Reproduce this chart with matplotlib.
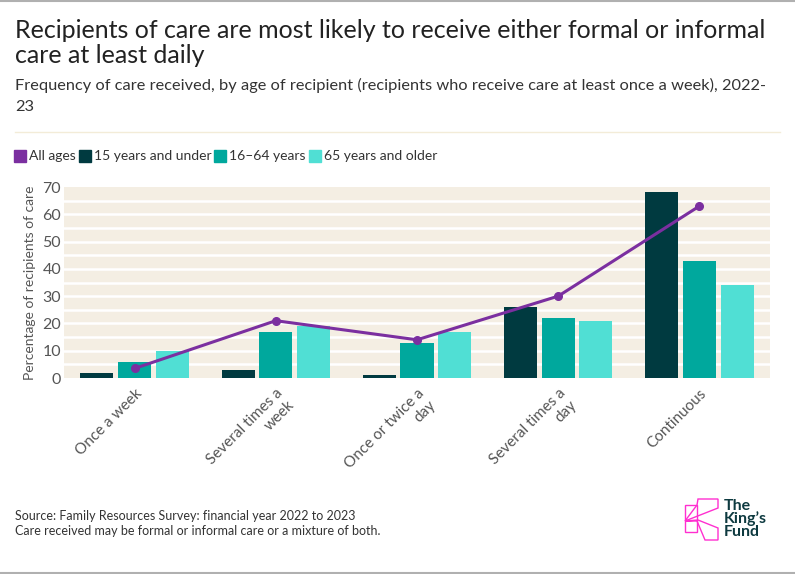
import numpy as np
import matplotlib.pyplot as plt
from matplotlib.patches import Rectangle, Polygon
from matplotlib.lines import Line2D

plt.rcParams['font.family'] = ['Lato', 'DejaVu Sans']

# data
categories = ['Once a week', 'Several times a\nweek', 'Once or twice a\nday',
              'Several times a\nday', 'Continuous']
all_ages = [3.5, 21, 14, 30, 63]
under_15 = [2, 3, 1, 26, 68]
age_16_64 = [6, 17, 13, 22, 43]
over_65 = [10, 19, 17, 21, 34]
series_names = ['All ages', '15 years and under', '16\u201364 years', '65 years and older']

c_purple = '#7b2fa0'
c_dark = '#003a40'
c_mid = '#00a89d'
c_light = '#50dfd4'
grey = '#555555'

fig = plt.figure(figsize=(7.95, 5.74), dpi=100)
W, H = 795, 574

def fx(px):
    return px / W

def fy(py):
    return 1 - py / H

# plot area (pixels: left 64, right 770, top 187, bottom 378)
ax = fig.add_axes([fx(64), fy(378), fx(770 - 64), (378 - 187) / H])
ax.set_facecolor('#f4eee3')
for s in ax.spines.values():
    s.set_visible(False)

x = np.arange(len(categories))
bw = 0.234
step = 0.267
ax.bar(x - step, under_15, bw, color=c_dark, zorder=3)
ax.bar(x, age_16_64, bw, color=c_mid, zorder=3)
ax.bar(x + step, over_65, bw, color=c_light, zorder=3)
ax.plot(x, all_ages, color=c_purple, lw=2.2, marker='o', ms=5.5, zorder=4)

ax.set_xlim(-0.5, len(categories) - 0.5)
ax.set_ylim(0, 70)
ax.set_yticks(np.arange(0, 71, 10))
for yv in np.arange(5, 70, 5):
    ax.axhline(yv, color='white', lw=1.8, zorder=1)
ax.tick_params(axis='y', length=0, labelsize=11.5, labelcolor=grey, pad=2)
ax.tick_params(axis='x', length=0, labelsize=11, labelcolor=grey, pad=6)
ax.set_xticks(x)
ax.set_xticklabels(categories, rotation=45, ha='right', rotation_mode='anchor',
                   multialignment='right')
ax.set_ylabel('Percentage of recipients of care', fontsize=10, color=grey, labelpad=5)

# title and subtitle
fig.text(fx(15), fy(19), 'Recipients of care are most likely to receive either formal or informal\ncare at least daily',
         fontsize=18, color='#222222', va='top', linespacing=1.12)
fig.text(fx(15), fy(78), 'Frequency of care received, by age of recipient (recipients who receive care at least once a week), 2022-\n23',
         fontsize=11.8, color='#333333', va='top', linespacing=1.65)
fig.add_artist(Line2D([fx(15), fx(780)], [fy(132), fy(132)], color='#f3ecd8', lw=1))

# legend
colors = [c_purple, c_dark, c_mid, c_light]
lx = 14
for name, col in zip(series_names, colors):
    fig.add_artist(Rectangle((fx(lx), fy(162)), fx(12), 12 / H, color=col))
    t = fig.text(fx(lx + 15), fy(156), name, fontsize=10, color='#333333', va='center')
    fig.canvas.draw()
    bb = t.get_window_extent()
    lx = bb.x1 + 3

# source notes
fig.text(fx(15), fy(520), 'Source: Family Resources Survey: financial year 2022 to 2023',
         fontsize=9, color='#333333', va='baseline')
fig.text(fx(15), fy(535), 'Care received may be formal or informal care or a mixture of both.',
         fontsize=9, color='#333333', va='baseline')

# logo
pink = '#ff2fd0'
logo_pts = [
    [(685, 505), (697, 505), (697, 532), (685, 532)],
    [(698, 499), (718, 499), (718, 508), (685, 521), (697, 505)],
    [(698, 520), (718, 528), (718, 540), (705, 540), (697, 521), (685, 521)],
]
for pts in logo_pts:
    fig.add_artist(Polygon([(fx(a), fy(b)) for a, b in pts], closed=True,
                           fill=False, edgecolor=pink, lw=1))
fig.text(fx(724), fy(519), 'The\nKing\u2019s\nFund', fontsize=11.5, fontweight='bold',
         color='#0e3a40', va='center', ha='left', linespacing=0.9)

# frame lines
fig.add_artist(Line2D([0, 1], [fy(1), fy(1)], color='#b0b0b0', lw=1.5))
fig.add_artist(Line2D([0, 1], [fy(573), fy(573)], color='#b0b0b0', lw=1.5))

fig.savefig('out.png', dpi=100)
